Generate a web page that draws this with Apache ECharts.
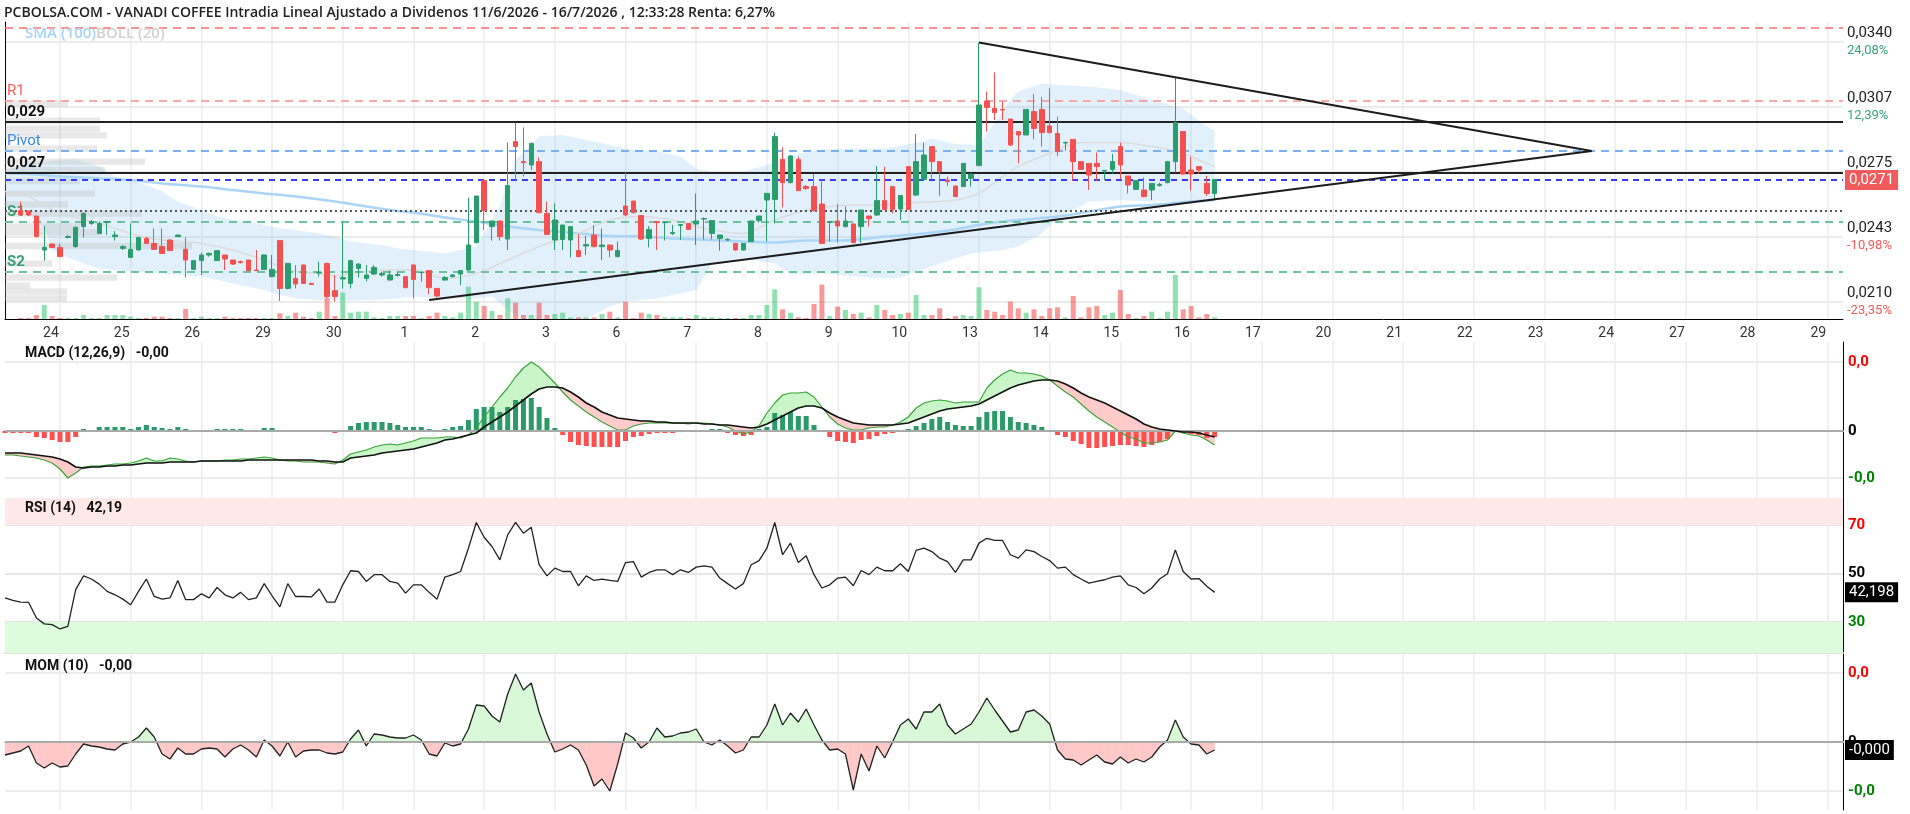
<!DOCTYPE html>
<html>
<head>
<meta charset="utf-8">
<script src="https://cdn.jsdelivr.net/npm/echarts@6/dist/echarts.min.js"></script>
<style>
html,body{margin:0;padding:0;background:#fff}
#chart{width:1910px;height:814px}
</style>
</head>
<body>
<div id="chart"></div>
<script>
// dias del eje x (empieza cada 9 velas)
var days = ['24','25','26','29','30','1','2','3','6','7','8','9','10','13','14','15','16','17','20','21','22','23','24','27','28','29'];

// velas intradia [open, close, low, high]
var candles = [
[0.02557,0.02535,0.02535,0.02602],[0.02555,0.02535,0.02530,0.02555],[0.02530,0.02427,0.02423,0.02530],[0.02360,0.02373,0.02307,0.02480],[0.02390,0.02373,0.02373,0.02390],
[0.02373,0.02327,0.02323,0.02390],[0.02423,0.02427,0.02418,0.02435],[0.02377,0.02473,0.02372,0.02477],[0.02477,0.02543,0.02423,0.02547],[0.02493,0.02502,0.02485,0.02510],
[0.02443,0.02493,0.02440,0.02502],[0.02498,0.02502,0.02435,0.02502],[0.02427,0.02435,0.02407,0.02455],[0.02368,0.02377,0.02360,0.02385],[0.02323,0.02363,0.02323,0.02493],
[0.02360,0.02423,0.02360,0.02423],[0.02418,0.02393,0.02390,0.02427],[0.02393,0.02363,0.02360,0.02468],[0.02377,0.02343,0.02343,0.02468],[0.02410,0.02357,0.02357,0.02413],
[0.02427,0.02435,0.02427,0.02435],[0.02363,0.02310,0.02223,0.02423],[0.02263,0.02307,0.02263,0.02307],[0.02307,0.02335,0.02235,0.02347],[0.02335,0.02343,0.02327,0.02347],
[0.02307,0.02357,0.02307,0.02357],[0.02335,0.02315,0.02260,0.02335],[0.02310,0.02290,0.02285,0.02310],[0.02302,0.02297,0.02293,0.02307],[0.02310,0.02257,0.02257,0.02310],
[0.02260,0.02257,0.02257,0.02360],[0.02263,0.02335,0.02260,0.02338],[0.02227,0.02263,0.02223,0.02335],[0.02407,0.02168,0.02105,0.02407],[0.02168,0.02293,0.02163,0.02293],
[0.02218,0.02190,0.02168,0.02285],[0.02285,0.02193,0.02190,0.02288],[0.02193,0.02188,0.02188,0.02193],[0.02245,0.02248,0.02227,0.02302],[0.02293,0.02127,0.02118,0.02297],
[0.02157,0.02127,0.02102,0.02235],[0.02215,0.02222,0.02168,0.02502],[0.02193,0.02307,0.02168,0.02310],[0.02268,0.02290,0.02223,0.02293],[0.02218,0.02235,0.02202,0.02285],
[0.02240,0.02273,0.02235,0.02285],[0.02235,0.02243,0.02227,0.02252],[0.02210,0.02235,0.02207,0.02257],[0.02233,0.02238,0.02227,0.02252],[0.02227,0.02172,0.02168,0.02227],
[0.02285,0.02213,0.02118,0.02288],[0.02247,0.02250,0.02202,0.02250],[0.02257,0.02172,0.02140,0.02257],[0.02168,0.02130,0.02123,0.02168],[0.02210,0.02223,0.02207,0.02230],
[0.02227,0.02235,0.02223,0.02240],[0.02240,0.02257,0.02185,0.02257],[0.02260,0.02385,0.02257,0.02622],[0.02397,0.02630,0.02393,0.02630],[0.02707,0.02557,0.02460,0.02707],
[0.02477,0.02505,0.02407,0.02505],[0.02505,0.02427,0.02407,0.02505],[0.02415,0.02682,0.02360,0.02897],[0.02902,0.02877,0.02707,0.02997],[0.02802,0.02797,0.02727,0.02973],
[0.02785,0.02893,0.02760,0.02897],[0.02802,0.02547,0.02543,0.02823],[0.02543,0.02438,0.02435,0.02602],[0.02410,0.02510,0.02360,0.02593],[0.02413,0.02485,0.02360,0.02485],
[0.02410,0.02477,0.02323,0.02477],[0.02357,0.02327,0.02323,0.02440],[0.02380,0.02387,0.02335,0.02430],[0.02435,0.02377,0.02373,0.02485],[0.02377,0.02385,0.02310,0.02468],
[0.02385,0.02360,0.02323,0.02385],[0.02327,0.02357,0.02323,0.02402],[0.02580,0.02535,0.02530,0.02747],[0.02605,0.02547,0.02543,0.02605],[0.02532,0.02415,0.02410,0.02535],
[0.02418,0.02463,0.02373,0.02480],[0.02502,0.02497,0.02360,0.02502],[0.02497,0.02500,0.02407,0.02500],[0.02443,0.02447,0.02435,0.02485],[0.02483,0.02487,0.02410,0.02487],
[0.02493,0.02463,0.02460,0.02493],[0.02490,0.02505,0.02385,0.02643],[0.02515,0.02517,0.02413,0.02523],[0.02443,0.02507,0.02413,0.02510],[0.02418,0.02435,0.02357,0.02435],
[0.02410,0.02413,0.02407,0.02418],[0.02393,0.02360,0.02357,0.02393],[0.02360,0.02393,0.02357,0.02393],[0.02402,0.02505,0.02402,0.02505],[0.02507,0.02530,0.02497,0.02530],
[0.02610,0.02643,0.02402,0.02643],[0.02613,0.02927,0.02493,0.02947],[0.02813,0.02697,0.02573,0.02873],[0.02697,0.02830,0.02693,0.02835],[0.02813,0.02657,0.02657,0.02827],
[0.02677,0.02668,0.02660,0.02685],[0.02677,0.02557,0.02552,0.02740],[0.02590,0.02393,0.02390,0.02713],[0.02498,0.02502,0.02402,0.02502],[0.02505,0.02480,0.02397,0.02590],
[0.02477,0.02505,0.02473,0.02577],[0.02490,0.02397,0.02393,0.02493],[0.02477,0.02560,0.02397,0.02560],[0.02530,0.02517,0.02477,0.02530],[0.02535,0.02607,0.02530,0.02780],
[0.02607,0.02563,0.02560,0.02777],[0.02677,0.02563,0.02543,0.02677],[0.02565,0.02632,0.02510,0.02632],[0.02777,0.02563,0.02560,0.02777],[0.02635,0.02802,0.02630,0.02940],
[0.02713,0.02835,0.02710,0.02897],[0.02877,0.02802,0.02713,0.02877],[0.02802,0.02752,0.02630,0.02802],[0.02710,0.02702,0.02680,0.02727],[0.02680,0.02627,0.02627,0.02680],
[0.02677,0.02793,0.02677,0.02793],[0.02718,0.02740,0.02677,0.02740],[0.02782,0.03085,0.02782,0.03397],[0.03105,0.03073,0.02952,0.03152],[0.03068,0.03047,0.03010,0.03248],
[0.03063,0.03060,0.03010,0.03102],[0.03015,0.02885,0.02880,0.03015],[0.02952,0.02935,0.02793,0.02952],[0.02935,0.03063,0.02935,0.03063],[0.03052,0.02968,0.02913,0.03140],
[0.03063,0.02947,0.02877,0.03123],[0.02980,0.02947,0.02943,0.03168],[0.02943,0.02852,0.02830,0.03027],[0.02895,0.02898,0.02857,0.02902],[0.02913,0.02802,0.02707,0.02913],
[0.02802,0.02763,0.02763,0.02802],[0.02793,0.02735,0.02660,0.02793],[0.02793,0.02777,0.02707,0.02847],[0.02755,0.02758,0.02710,0.02760],[0.02763,0.02802,0.02743,0.02840],
[0.02877,0.02785,0.02713,0.02897],[0.02730,0.02685,0.02643,0.02730],[0.02663,0.02707,0.02663,0.02707],[0.02660,0.02627,0.02623,0.02723],[0.02660,0.02693,0.02610,0.02693],
[0.02683,0.02688,0.02677,0.02697],[0.02697,0.02802,0.02693,0.02802],[0.02802,0.02997,0.02747,0.03222],[0.02952,0.02740,0.02735,0.02952],[0.02760,0.02740,0.02657,0.02827],
[0.02777,0.02760,0.02740,0.02777],[0.02693,0.02643,0.02630,0.02730],[0.02643,0.02713,0.02613,0.02713]
];

var volumes = [3,3,12,42,9,3,3,3,12,3, 3,12,12,12,7,3,3,7,7,3, 3,30,3,7,3,3,7,3,3,3, 3,3,3,17,9,19,7,3,22,62,
  9,79,19,22,22,5,3,9,9,9, 9,3,9,19,9,5,19,97,52,39, 24,12,62,49,12,12,49,12,15,19, 5,5,5,5,15,22,5,52,3,19,
  15,12,5,5,5,3,12,5,5,3, 3,3,3,12,12,42,89,29,19,5, 3,45,103,9,37,27,15,19,5,42, 27,12,15,19,72,12,12,32,3,9,
  12,9,95,27,22,12,52,32,19,29, 9,32,35,5,69,5,35,39,12,19, 87,15,3,9,22,3,22,132,29,39, 5,15,5];

// medias: [indice de vela, precio]
var bollUpper = [[-2,0.02760],[1,0.02793],[5,0.02810],[7,0.02813],[10,0.02777],[12,0.02727],[14,0.02710],[16,0.02685],[18,0.02652],[20,0.02602],[23,0.02560],[25,0.02527],[27,0.02513],[29,0.02502],[31,0.02485],[33,0.02468],[35,0.02460],[38,0.02443],[40,0.02427],[42,0.02402],[44,0.02393],[46,0.02385],[48,0.02368],[50,0.02360],[54,0.02343],[58,0.02377],[61,0.02577],[63,0.02810],[66,0.02927],[69,0.02935],[73,0.02902],[77,0.02868],[81,0.02852],[84,0.02827],[86,0.02768],[88,0.02752],[92,0.02752],[95,0.02785],[98,0.02835],[102,0.02863],[106,0.02868],[110,0.02868],[115,0.02902],[116,0.02918],[119,0.02890],[122,0.02885],[126,0.03110],[127,0.03152],[130,0.03193],[132,0.03185],[136,0.03177],[140,0.03160],[144,0.03110],[148,0.03068],[151,0.02977],[152,0.02960]];
var bollLower = [[-2,0.02577],[1,0.02543],[3,0.02477],[4,0.02360],[6,0.02323],[8,0.02293],[10,0.02268],[14,0.02252],[18,0.02243],[23,0.02227],[27,0.02193],[31,0.02160],[33,0.02135],[35,0.02118],[38,0.02110],[40,0.02107],[42,0.02107],[44,0.02110],[46,0.02113],[48,0.02118],[50,0.02127],[54,0.02118],[58,0.02118],[60,0.02127],[62,0.02060],[64,0.02010],[69,0.02002],[72,0.02018],[75,0.02077],[77,0.02102],[81,0.02118],[86,0.02160],[88,0.02293],[92,0.02318],[96,0.02293],[98,0.02240],[102,0.02243],[106,0.02230],[110,0.02218],[112,0.02223],[117,0.02293],[121,0.02343],[125,0.02360],[127,0.02377],[130,0.02443],[132,0.02518],[136,0.02602],[140,0.02610],[144,0.02602],[149,0.02602],[152,0.02618]];
var bollMid = [[-2,0.02652],[1,0.02627],[5,0.02543],[10,0.02493],[14,0.02443],[18,0.02410],[23,0.02393],[27,0.02360],[31,0.02310],[33,0.02277],[35,0.02252],[38,0.02243],[40,0.02230],[42,0.02243],[44,0.02252],[46,0.02260],[50,0.02260],[54,0.02218],[58,0.02243],[62,0.02310],[66,0.02377],[71,0.02443],[75,0.02510],[79,0.02527],[83,0.02510],[88,0.02460],[92,0.02443],[96,0.02510],[100,0.02560],[102,0.02573],[106,0.02585],[110,0.02585],[114,0.02597],[119,0.02610],[122,0.02643],[125,0.02727],[127,0.02777],[132,0.02860],[134,0.02893],[136,0.02897],[140,0.02897],[144,0.02877],[148,0.02843],[151,0.02793],[152,0.02777]];
var sma100 = [[-2,0.02743],[1,0.02740],[5,0.02727],[10,0.02718],[14,0.02710],[18,0.02693],[23,0.02677],[27,0.02660],[31,0.02643],[35,0.02627],[40,0.02602],[44,0.02577],[48,0.02555],[50,0.02547],[54,0.02523],[58,0.02502],[62,0.02477],[66,0.02460],[71,0.02443],[75,0.02430],[79,0.02427],[83,0.02418],[88,0.02410],[92,0.02402],[96,0.02397],[100,0.02407],[102,0.02407],[106,0.02410],[110,0.02427],[115,0.02443],[119,0.02463],[123,0.02493],[127,0.02510],[132,0.02527],[136,0.02552],[140,0.02577],[144,0.02585],[149,0.02602],[152,0.02610]];

// volumen por precio (perfil a la izquierda)
var vpPrice = [0.03092,0.03007,0.02967,0.02933,0.02867,0.02802,0.02760,0.02705,0.02642,0.02588,0.02542,0.02478,0.02448,0.02380,0.02292,0.02222,0.02182,0.02152,0.02118];
var vpVol = [63,95,95,102,92,140,100,75,90,63,137,75,97,187,47,112,25,62,62];

// lineas horizontales (R2, R1, 0,029, Pivot, 0,027, punteada, S1, S2)
var levelValues = [0.0347,0.03107,0.0300,0.02855,0.02745,0.02555,0.0250,0.0225];
var levelNames = ['','R1','0,029','Pivot','0,027','','S1','S2'];
var lastPrice = 0.0271;

// directrices [indice de vela, precio]
var trendSupport = [[52,0.02110],[200,0.02855]];
var trendResist = [[122,0.03397],[200,0.02855]];

// eje de precios
var priceTicks = [0.0340,0.03075,0.0275,0.02425,0.0210];
var priceTickText = ['0,0340','0,0307','0,0275','0,0243','0,0210'];
var priceTickPct = ['24,08%','12,39%','','-10,98%','-23,35%'];

// indicadores (empiezan 2 posiciones antes de la primera vela), MACD y MOM en 0,00001
var macdLine = [-24,-24,
 -25,-26,-27,-29,-32,-38,-47,-42,-36,-35, -35,-34,-33,-33,-32,-30,-27,-30,-30,-27, -28,-30,-31,-30,-30,-30,-29,-29,-28,-28,
 -27,-26,-27,-29,-30,-30,-31,-31,-31,-32, -33,-29,-23,-21,-19,-16,-14,-13,-14,-12, -10,-7,-7,-7,-6,-6,-7,-4,3,14,
 24,34,43,54,63,69,64,56,48,39, 31,25,19,14,9,5,1,1,5,7, 8,8,8,8,8,7,8,8,7,6, 4,0,-3,-1,5,18,28,36,38,38,
 39,34,24,14,7,3,1,1,3,4, 4,6,9,14,23,28,30,31,30,28, 29,29,29,43,51,57,61,58,58,57, 55,51,45,39,34,27,20,14,9,4,
 -1,-6,-8,-12,-12,-11,-9,0,-2,-4, -5,-9,-14];
var macdSignal = [-22,-22,
 -22,-23,-24,-25,-26,-28,-31,-36,-37,-36, -36,-35,-35,-34,-34,-33,-32,-32,-32,-31, -31,-31,-31,-30,-30,-30,-30,-30,-30,-29,
 -29,-29,-29,-29,-29,-29,-29,-29,-30,-30, -31,-31,-27,-26,-25,-24,-22,-21,-20,-19, -18,-16,-14,-12,-9,-8,-6,-4,-2,4,
 9,14,19,25,31,37,42,44,44,43, 39,34,28,24,19,16,13,12,11,10, 10,9,9,8,8,8,8,7,7,6, 6,5,4,3,4,7,11,15,19,23,
 25,25,23,18,14,11,8,7,6,6, 6,6,7,8,11,14,17,20,22,23, 24,25,27,31,35,39,43,46,48,50, 51,51,50,47,43,38,34,31,28,24,
 20,16,12,7,4,2,1,0,-1,-1, -2,-4,-6];
var macdHist = [-2,-2,
 -2,-2,-6,-7,-9,-11,-11,-6,2,1, 4,4,4,4,2,4,6,4,3,2, 4,2,1,1,1,2,2,2,2,0, 0,3,3,-1,0,0,-1,-1,0,0,
 -2,0,5,8,9,9,9,8,6,4, 4,4,2,0,2,4,5,11,22,24, 24,19,24,31,32,33,24,13,3,-4, -11,-14,-15,-16,-16,-16,-16,-10,-6,-5,
 -3,-2,-2,-2,-1,-1,0,0,2,2, -2,-4,-5,-4,2,4,18,16,19,15, 15,6,0,-6,-10,-11,-12,-9,-8,-5, -3,-2,0,2,5,8,12,14,9,6,
 5,5,14,19,20,20,14,9,8,6, 4,0,-4,-6,-10,-13,-17,-17,-16,-15, -14,-14,-15,-16,-14,-11,-8,-1,-2,-3, -4,-7,-6];
var rsi = [39.9,38.9,
 38.2,38.1,31.6,29.2,28.9,27.1,28.2,43.3,49.0,47.7, 45.6,42.6,41.2,39.4,37.1,42.6,47.7,40.5,39.4,39.9,
 47.1,39.2,39.2,41.6,39.9,44.2,41.2,39.9,42.2,39.2, 39.9,45.8,40.8,36.2,45.8,40.5,40.5,40.3,43.6,38.2,
 38.2,45.3,51.1,50.8,46.7,49.5,49.5,46.7,46.0,41.9, 45.3,45.3,42.2,39.4,48.5,49.5,50.8,60.4,71.0,64.9,
 61.1,55.6,65.9,71.1,66.6,69.0,53.6,49.0,52.2,50.8, 50.8,44.9,49.0,47.1,47.7,47.1,46.7,54.5,54.9,48.5,
 50.4,51.5,51.5,49.5,51.5,50.4,52.6,53.1,52.6,48.1, 45.8,43.6,45.8,53.6,55.3,60.4,71.0,57.7,62.5,54.5,
 57.3,49.5,44.0,45.3,48.1,48.5,44.9,51.2,49.5,52.6, 51.1,51.1,54.0,50.8,59.5,60.4,59.0,56.3,54.9,50.4,
 55.6,55.6,62.5,64.5,63.6,63.6,57.7,56.3,59.7,59.0, 57.0,55.3,52.2,52.6,49.5,47.7,46.0,46.7,47.4,48.5,
 49.0,45.3,44.2,41.6,44.0,47.7,49.9,59.7,50.8,47.7, 47.9,44.7,42.198];
var mom = [-13,-11,
 -9,-4,-21,-26,-21,-25,-24,-12,-2,-4, -5,-7,-8,-2,0,5,14,5,-12,-17, -6,-12,-12,-7,-6,-7,-15,-7,-3,-8,
 -15,2,-4,-14,0,-15,-9,-8,-8,-11, -12,-10,3,12,-4,8,7,5,4,4, 7,2,-12,-14,-1,-4,-2,13,37,36,
 26,20,48,68,52,59,30,8,-10,-7, -3,-8,-23,-44,-37,-49,-22,9,4,-6, 0,14,5,6,9,10,13,0,-3,2,
 -4,-11,-8,5,5,17,38,17,29,20, 33,17,2,-8,-7,-12,-48,-12,-29,-4, -16,0,17,23,13,30,30,38,17,8,
 13,18,30,44,32,21,10,12,30,32, 26,18,-8,-17,-18,-23,-18,-13,-20,-22, -15,-21,-17,-20,-15,-5,2,22,5,-2, -3,-12,-8];

var PAD = 2, NSLOT = 235, FIRST_DAY = 5, PER_DAY = 9;

var cats = [];
for (var s = 0; s < NSLOT; s++) {
    var c = s - PAD - FIRST_DAY;
    cats.push(c >= 0 && c % PER_DAY === 0 && c / PER_DAY < days.length ? days[c / PER_DAY] : '');
}
var isDay = function (idx, val) { return val !== ''; };

var UP = '#2a9d6c', DOWN = '#f4504f';
var fontAxis = 'Roboto';
var CLEAR = 'rgba(0,0,0,0)';

function toSlot(arr) { return arr.map(function (p) { return [p[0] + PAD, p[1]]; }); }

// relleno entre dos curvas (verde si a > b, rojo si no)
function makeFill(aArr, bArr, upCol, downCol) {
    return function (params, api) {
        var x = api.value(0);
        var a0 = aArr[x], b0 = bArr[x], a1 = aArr[x + 1], b1 = bArr[x + 1];
        var A0 = api.coord([x, a0]), B0 = api.coord([x, b0]);
        var A1 = api.coord([x + 1, a1]), B1 = api.coord([x + 1, b1]);
        var d0 = a0 - b0, d1 = a1 - b1;
        if (d0 * d1 >= 0) {
            var col = (d0 + d1) >= 0 ? upCol : downCol;
            return {type: 'polygon', shape: {points: [A0, A1, B1, B0]}, style: {fill: col, stroke: col, lineWidth: 0.5}};
        }
        var t = d0 / (d0 - d1);
        var C = [A0[0] + (A1[0] - A0[0]) * t, A0[1] + (A1[1] - A0[1]) * t];
        var c0 = d0 > 0 ? upCol : downCol, c1 = d1 > 0 ? upCol : downCol;
        return {type: 'group', children: [
            {type: 'polygon', shape: {points: [A0, C, B0]}, style: {fill: c0, stroke: c0, lineWidth: 0.5}},
            {type: 'polygon', shape: {points: [C, A1, B1]}, style: {fill: c1, stroke: c1, lineWidth: 0.5}}
        ]};
    };
}

var zeros = mom.map(function () { return 0; });
var fillIdx = function (arr) {
    var out = [];
    for (var i = 0; i < arr.length - 1; i++) out.push([i, arr[i]]);
    return out;
};

var levelLine = [
    {color: '#ff6e6e', type: [8, 6], width: 1.5},
    {color: '#ff8d8d', type: [8, 6], width: 1.5},
    {color: '#222', type: 'solid', width: 2},
    {color: '#78b0f0', type: [8, 6], width: 2},
    {color: '#222', type: 'solid', width: 2},
    {color: '#555', type: [2, 3], width: 2},
    {color: '#6cc49b', type: [8, 6], width: 2},
    {color: '#6cc49b', type: [8, 6], width: 2}
];
var levelText = [
    {}, {color: '#ff5a5a', fontSize: 15},
    {color: '#111', fontSize: 15, fontWeight: 'bold'},
    {color: '#3a8ae6', fontSize: 15},
    {color: '#111', fontSize: 15, fontWeight: 'bold'},
    {}, {color: '#35a074', fontSize: 15, fontWeight: 'bold'},
    {color: '#35a074', fontSize: 15, fontWeight: 'bold'}
];
var levelMarks = levelValues.map(function (v, i) {
    return {yAxis: v, lineStyle: levelLine[i],
            label: echarts.util.extend({show: levelNames[i] !== '', formatter: levelNames[i], position: 'insideStartTop', distance: [2, 2]}, levelText[i])};
});
levelMarks.push({
    yAxis: lastPrice, lineStyle: {color: '#3b3bf2', type: [6, 5], width: 2},
    label: {show: true, position: 'end', distance: 2, formatter: lastPrice.toFixed(4).replace('.', ','),
            color: '#fff', backgroundColor: '#f25b5b', padding: [3, 4, 2, 4], fontSize: 15}
});

var myChart = echarts.init(document.getElementById('chart'));

var catAxis = function (grid, main) {
    return {
        type: 'category', gridIndex: grid, data: cats, boundaryGap: false,
        axisLine: {show: true, lineStyle: {color: main ? '#000' : '#e2e2e2', width: main ? 1 : 2}},
        axisTick: {show: false},
        axisLabel: main ? {interval: isDay, color: '#333', fontSize: 14, fontFamily: fontAxis, margin: 7, padding: [0, 18, 0, 0]} : {show: false},
        splitLine: {show: true, interval: isDay, lineStyle: {color: '#ebebeb', width: 1.5}}
    };
};

var signColor = function (v) { return v > 0 ? '#ff0000' : (v < 0 ? '#008000' : '#000'); };
var zeroFmt = function (v) { return v > 0 ? '0,0' : (v < 0 ? '-0,0' : '0'); };

var option = {
    animation: false,
    backgroundColor: '#fff',
    textStyle: {fontFamily: fontAxis},
    title: [
        {text: 'PCBOLSA.COM - VANADI COFFEE Intradia Lineal Ajustado a Dividenos 11/6/2026 - 16/7/2026 , 12:33:28 Renta: 6,27%',
         left: 4, top: 6, padding: 0, textStyle: {fontSize: 14, fontWeight: 600, color: '#222', fontFamily: 'Open Sans'}},
        {text: '{a|SMA (100)}{b|BOLL (20)}', left: 25, top: 26, padding: 0,
         textStyle: {rich: {a: {color: '#a6d3f7', fontSize: 15, fontWeight: 600, fontFamily: 'Open Sans'},
                            b: {color: '#d2d2d2', fontSize: 15, fontWeight: 600, fontFamily: 'Open Sans'}}}},
        {text: 'MACD (12,26,9)   -0,00', left: 25, top: 346, padding: 0, textStyle: {fontSize: 14, fontWeight: 'bold', color: '#111', fontFamily: fontAxis}},
        {text: 'RSI (14)   42,19', left: 25, top: 501, padding: 0, textStyle: {fontSize: 14, fontWeight: 'bold', color: '#111', fontFamily: fontAxis}},
        {text: 'MOM (10)   -0,00', left: 25, top: 659, padding: 0, textStyle: {fontSize: 14, fontWeight: 'bold', color: '#111', fontFamily: fontAxis}}
    ],
    grid: [
        {left: 5, right: 67, top: 22, height: 297},
        {left: 5, right: 67, top: 342, height: 156},
        {left: 5, right: 67, top: 498, height: 155},
        {left: 5, right: 67, top: 653, height: 157}
    ],
    xAxis: [
        catAxis(0, true),
        {type: 'value', gridIndex: 0, min: 0, max: 1838, show: false},
        catAxis(1, false),
        catAxis(2, false),
        catAxis(3, false)
    ],
    yAxis: [
        {type: 'value', gridIndex: 0, position: 'right', min: 0.02015, max: 0.0350,
         axisLine: {show: true, lineStyle: {color: '#000'}},
         axisTick: {show: false, customValues: priceTicks},
         axisLabel: {customValues: priceTicks, margin: 4,
            formatter: function (v) {
                var k = 0;
                for (var i = 0; i < priceTicks.length; i++) if (Math.abs(priceTicks[i] - v) < 1e-7) k = i;
                var pct = priceTickPct[k];
                return '{p|' + priceTickText[k] + '}\n' + (pct === '' ? '{g| }' : (pct.charAt(0) === '-' ? '{r|' : '{g|') + pct + '}');
            },
            rich: {p: {fontSize: 15, color: '#222', lineHeight: 18, fontFamily: fontAxis},
                   g: {fontSize: 13, color: '#36a57a', lineHeight: 18, fontFamily: fontAxis},
                   r: {fontSize: 13, color: '#f05a5a', lineHeight: 18, fontFamily: fontAxis}}},
         splitLine: {show: true, lineStyle: {color: '#ebebeb', width: 2}}},
        {type: 'value', gridIndex: 0, min: 0, max: 890, show: false},
        {type: 'value', gridIndex: 1, position: 'right', min: -67, max: 89,
         axisLine: {show: true, lineStyle: {color: '#000'}},
         axisTick: {show: false, customValues: [69, 0, -47]},
         axisLabel: {customValues: [69, 0, -47], formatter: zeroFmt, color: signColor, fontWeight: 'bold', fontSize: 15, margin: 5},
         splitLine: {show: true, lineStyle: {color: '#ebebeb', width: 2}}},
        {type: 'value', gridIndex: 2, position: 'right', min: 17.2, max: 81.1,
         axisLine: {show: true, lineStyle: {color: '#000'}},
         axisTick: {show: false, customValues: [70, 50, 30]},
         axisLabel: {customValues: [70, 50, 30], fontWeight: 'bold', fontSize: 15, margin: 5,
            color: function (v) { return v >= 70 ? '#ff0000' : (v <= 30 ? '#008000' : '#000'); }},
         splitLine: {show: true, lineStyle: {color: '#e6e6e6', width: 2}}},
        {type: 'value', gridIndex: 3, position: 'right', min: -68, max: 89,
         axisLine: {show: true, lineStyle: {color: '#000'}},
         axisTick: {show: false, customValues: [69, 0, -49]},
         axisLabel: {customValues: [69, 0, -49], formatter: zeroFmt, color: signColor, fontWeight: 'bold', fontSize: 15, margin: 5},
         splitLine: {show: true, lineStyle: {color: '#ebebeb', width: 2}}}
    ],
    series: [
        // banda de Bollinger
        {type: 'custom', name: 'bollBand', xAxisIndex: 0, yAxisIndex: 0, z: 1, silent: true, clip: true,
         data: [[0, bollUpper[0][1]]],
         renderItem: function (params, api) {
             var pts = [];
             bollUpper.forEach(function (p) { pts.push(api.coord([p[0] + PAD, p[1]])); });
             for (var i = bollLower.length - 1; i >= 0; i--) pts.push(api.coord([bollLower[i][0] + PAD, bollLower[i][1]]));
             return {type: 'polygon', shape: {points: pts}, style: {fill: 'rgba(140,198,240,0.26)'}};
         }},
        // perfil de volumen
        {type: 'custom', name: 'volProfile', xAxisIndex: 1, yAxisIndex: 0, z: 1, silent: true,
         data: vpPrice.map(function (p, i) { return [vpVol[i], p]; }),
         renderItem: function (params, api) {
             var a = api.coord([0, api.value(1) + 0.00016]);
             var b = api.coord([api.value(0), api.value(1) - 0.00016]);
             return {type: 'rect', shape: {x: a[0], y: a[1], width: b[0] - a[0], height: b[1] - a[1]}, style: {fill: 'rgba(185,185,185,0.32)'}};
         }},
        // volumen
        {type: 'bar', name: 'volume', xAxisIndex: 0, yAxisIndex: 1, z: 2, barWidth: 5, silent: true,
         data: volumes.map(function (v, i) {
             var up = candles[i][1] >= candles[i][0];
             return {value: [i + PAD, v], itemStyle: {color: up ? 'rgba(70,205,125,0.6)' : 'rgba(245,85,85,0.6)'}};
         })},
        {type: 'line', name: 'sma', xAxisIndex: 0, yAxisIndex: 0, z: 3, data: toSlot(sma100), symbol: 'none', smooth: 0.3,
         lineStyle: {color: '#a9d5f7', width: 2.5}, silent: true},
        {type: 'line', name: 'bollMid', xAxisIndex: 0, yAxisIndex: 0, z: 3, data: toSlot(bollMid), symbol: 'none', smooth: 0.3,
         lineStyle: {color: '#dcdcdc', width: 1.5}, silent: true},
        // soportes y resistencias (serie soporte de las markLine)
        {type: 'line', name: 'levels', xAxisIndex: 0, yAxisIndex: 0, z: 4, data: toSlot(sma100), symbol: 'none', silent: true,
         lineStyle: {color: CLEAR, width: 0},
         markLine: {silent: true, symbol: ['none', 'none'], animation: false, precision: 6, data: levelMarks}},
        // velas
        {type: 'candlestick', name: 'price', xAxisIndex: 0, yAxisIndex: 0, z: 5, barWidth: 5,
         data: candles.map(function (c, i) { return [i + PAD, c[0], c[1], c[2], c[3]]; }),
         encode: {x: 0, y: [1, 2, 3, 4]},
         itemStyle: {color: UP, color0: DOWN, borderColor: UP, borderColor0: DOWN, borderWidth: 1}},
        {type: 'line', name: 'support', xAxisIndex: 0, yAxisIndex: 0, z: 6, data: toSlot(trendSupport), symbol: 'none',
         lineStyle: {color: '#1c1c1c', width: 2}, silent: true},
        {type: 'line', name: 'resist', xAxisIndex: 0, yAxisIndex: 0, z: 6, data: toSlot(trendResist), symbol: 'none',
         lineStyle: {color: '#1c1c1c', width: 2}, silent: true},

        // MACD
        {type: 'custom', name: 'macdFill', xAxisIndex: 2, yAxisIndex: 2, z: 2, silent: true,
         data: fillIdx(macdLine), renderItem: makeFill(macdLine, macdSignal, '#c9f5c9', '#ffcaca')},
        {type: 'bar', name: 'macdHist', xAxisIndex: 2, yAxisIndex: 2, z: 3, barWidth: 5, silent: true,
         data: macdHist.map(function (v, i) { return {value: [i, v], itemStyle: {color: v >= 0 ? '#2a9a6a' : '#ff4f4f'}}; })},
        {type: 'line', name: 'macd', xAxisIndex: 2, yAxisIndex: 2, z: 4, symbol: 'none', silent: true,
         data: macdLine.map(function (v, i) { return [i, v]; }), lineStyle: {color: '#3aa53a', width: 1.2},
         markLine: {silent: true, symbol: ['none', 'none'], label: {show: false},
                    data: [{yAxis: 0}], lineStyle: {color: '#aaa', width: 2, type: 'solid'}}},
        {type: 'line', name: 'signal', xAxisIndex: 2, yAxisIndex: 2, z: 5, symbol: 'none', silent: true,
         data: macdSignal.map(function (v, i) { return [i, v]; }), lineStyle: {color: '#111', width: 1.6}},

        // RSI
        {type: 'line', name: 'rsi', xAxisIndex: 3, yAxisIndex: 3, z: 4, symbol: 'none', silent: true,
         data: rsi.map(function (v, i) { return [i, v]; }), lineStyle: {color: '#222', width: 1.3},
         markArea: {silent: true, data: [
             [{yAxis: 70, itemStyle: {color: '#ffe8e8'}}, {yAxis: 81.1}],
             [{yAxis: 17.2, itemStyle: {color: '#dcfcdc'}}, {yAxis: 30}]
         ]},
         markLine: {silent: true, symbol: ['none', 'none'], precision: 3,
                    data: [{yAxis: rsi[rsi.length - 1], lineStyle: {color: CLEAR, width: 0},
                            label: {show: true, position: 'end', distance: 2, color: '#fff', backgroundColor: '#000', padding: [3, 4, 2, 4], fontSize: 15,
                                    formatter: function (p) { return Number(p.value).toFixed(3).replace('.', ','); }}}]}},

        // MOM
        {type: 'custom', name: 'momFill', xAxisIndex: 4, yAxisIndex: 4, z: 2, silent: true,
         data: fillIdx(mom), renderItem: makeFill(mom, zeros, '#d8f8d8', '#ffc8c8')},
        {type: 'line', name: 'mom', xAxisIndex: 4, yAxisIndex: 4, z: 4, symbol: 'none', silent: true,
         data: mom.map(function (v, i) { return [i, v]; }), lineStyle: {color: '#222', width: 1.3},
         markLine: {silent: true, symbol: ['none', 'none'], precision: 3,
                    data: [
                        {yAxis: 0, lineStyle: {color: '#aaa', width: 2, type: 'solid'}, label: {show: false}},
                        {yAxis: mom[mom.length - 1], lineStyle: {color: CLEAR, width: 0},
                         label: {show: true, position: 'end', distance: 2, color: '#fff', backgroundColor: '#000', padding: [3, 4, 2, 4], fontSize: 15,
                                 formatter: function (p) { return (p.value * 1e-5).toFixed(3).replace('.', ','); }}}
                    ]}}
    ]
};

myChart.setOption(option);
</script>
</body>
</html>
